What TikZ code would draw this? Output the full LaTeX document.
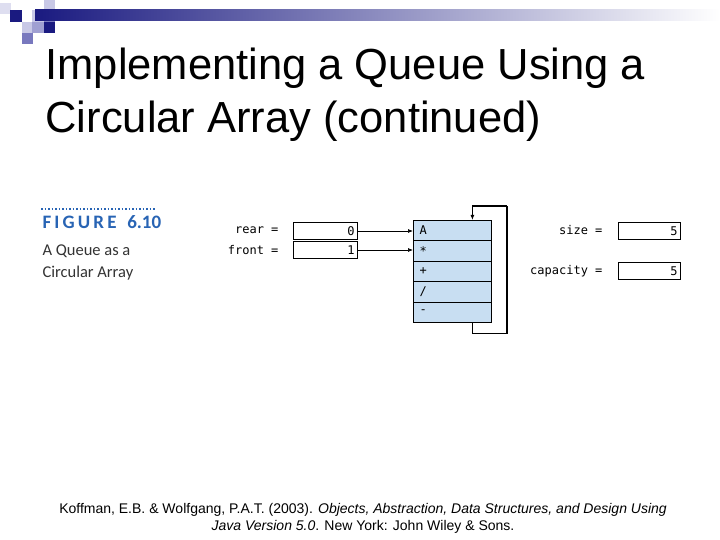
\documentclass[tikz,border=0pt]{standalone}
\usepackage{fontspec}
\setmainfont{Liberation Sans}
\newfontfamily\monof{DejaVu Sans Mono}
\newfontfamily\capf{Carlito}
\usetikzlibrary{arrows.meta}
\definecolor{navy}{RGB}{26,26,128}
\definecolor{mid}{RGB}{120,120,190}
\definecolor{lite}{RGB}{200,200,230}
\definecolor{cellblue}{RGB}{200,222,242}
\definecolor{figblue}{RGB}{40,100,180}
\begin{document}
\begin{tikzpicture}[x=1pt,y=-1pt,
  box/.style={draw,line width=1pt,minimum width=64pt,minimum height=17pt,inner sep=2pt,anchor=north west,align=right,text width=58pt,font=\monof\fontsize{12}{12}\selectfont},
  cell/.style={draw,fill=cellblue,minimum width=78pt,minimum height=20.4pt,anchor=north west,inner sep=0pt,font=\monof\fontsize{12}{12}\selectfont},
  lab/.style={anchor=east,font=\monof\fontsize{12}{12}\selectfont},
  arr/.style={-{Latex[length=5pt,width=4pt]},line width=0.7pt}]
\useasboundingbox (0,0) rectangle (720,540);
% header decoration
\fill[lite!60] (0,3) rectangle (11,14);
\fill[navy] (10,10) rectangle (22,22);
\fill[lite] (32,10) rectangle (44,22);
\fill[lite] (44,0) rectangle (55,10);
\fill[mid] (44,12) rectangle (55,22);
\fill[navy] (44,22) rectangle (55,33);
\fill[lite] (22,22) rectangle (33,33);
\fill[mid!70] (32,22) rectangle (44,33);
\fill[mid] (22,33) rectangle (33,44);
\shade[left color=navy,right color=white] (35,10) rectangle (720,21);
% title
\node[anchor=base west,font=\fontsize{43.5}{43.5}\selectfont] (t1) at (42,80) {Implementing a Queue Using a};
\node[anchor=base west,font=\fontsize{43.5}{43.5}\selectfont] (t2) at (42,133) {Circular Array (continued)};
% caption
\draw[figblue,dotted,line width=1.5pt] (41,209) -- (156,209);
\node[anchor=base west,font=\capf\bfseries\fontsize{19}{19}\selectfont,text=figblue] (fig) at (39,229) {F\,I\,G\,U\,R\,E\, \,6.10};
\node[anchor=base west,font=\capf\fontsize{16.5}{16.5}\selectfont,text=black!80] (c1) at (39,255) {A Queue as a};
\node[anchor=base west,font=\capf\fontsize{16.5}{16.5}\selectfont,text=black!80] (c2) at (39,277) {Circular Array};
% boxes
\node[lab] (lr) at (282,230) {rear =};
\node[lab] (lf) at (282,250) {front =};
\node[box] (rear) at (293,222) {0};
\node[box] (front) at (293,241) {1};
\foreach \i/\t in {0/A,1/*,2/+,3/{/},4/-}{
  \node[cell] (c\i) at (413,{220+20.4*\i}) {};
  \node[anchor=west,font=\monof\fontsize{12}{12}\selectfont] at ([xshift=3pt]c\i.west) {\t};
}
\draw[arr] (rear.east) -- (rear.east -| c0.west);
\draw[arr] (front.east) -- (front.east -| c1.west);
\coordinate (lp1) at (507,206);
\draw[line width=1.3pt] ([xshift=-19pt]c4.south east) -- ++(0,11) -| (lp1);
\draw[arr,line width=1.3pt] (lp1) -| ([xshift=-19pt]c0.north east);
\node[lab] (ls) at (606,230) {size =};
\node[lab] (lc) at (606,271) {capacity =};
\node[box,minimum width=62pt,text width=56pt] (size) at (618,222) {5};
\node[box,minimum width=62pt,text width=56pt] (cap) at (618,262) {5};
% citation
\node[align=center,font=\fontsize{14}{17}\selectfont] (cite) at (363,518) {Koffman, E.B. \& Wolfgang, P.A.T. (2003). \textit{Objects, Abstraction, Data Structures, and Design Using}\\ \textit{Java Version 5.0}. New York: John Wiley \& Sons.};
\end{tikzpicture}
\end{document}
